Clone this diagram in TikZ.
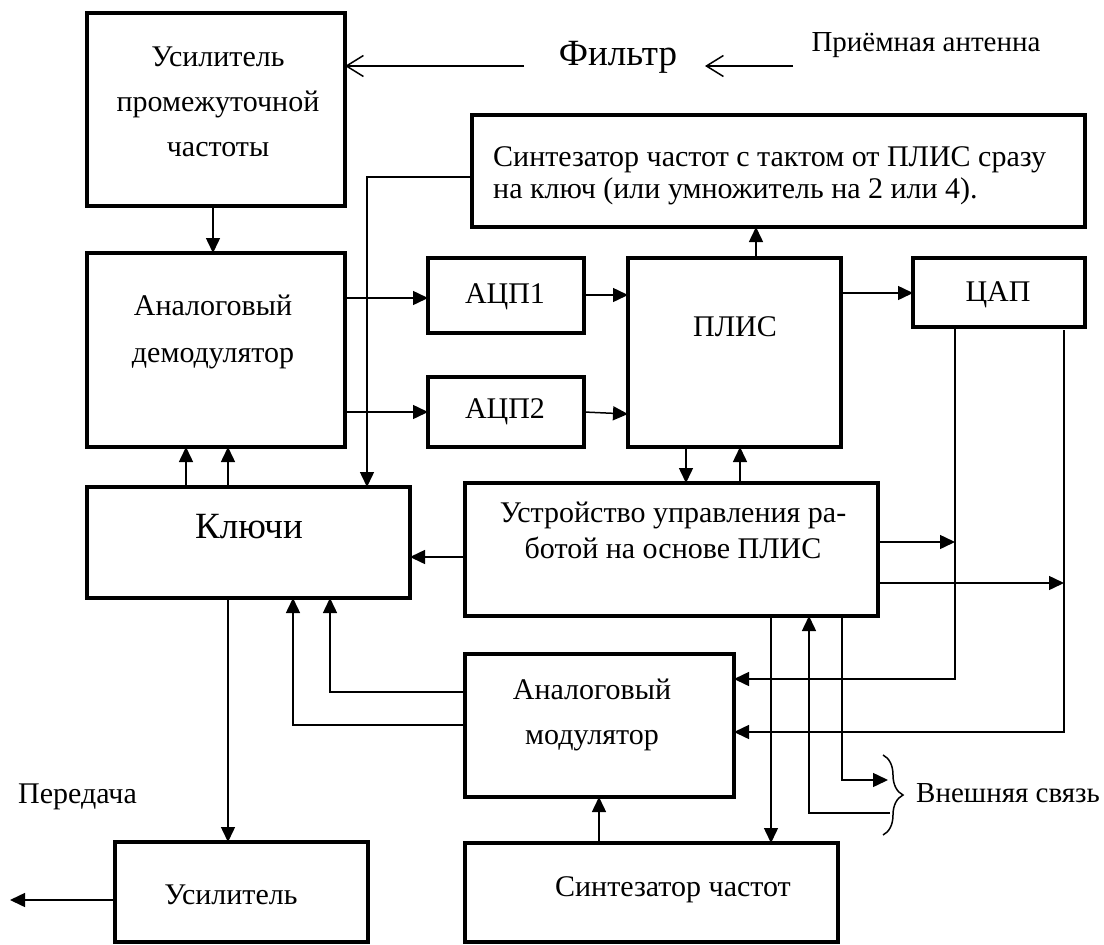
\documentclass[tikz,border=0pt]{standalone}
\usepackage{fontspec}
\setmainfont{Liberation Serif}
\usetikzlibrary{arrows.meta,decorations.pathreplacing}
\tikzset{
  bx/.style={draw, line width=3.5pt, inner sep=0pt, outer sep=0pt},
  txt/.style={inner sep=0pt, font=\fontsize{30}{36}\selectfont},
  big/.style={inner sep=0pt, font=\fontsize{37}{42}\selectfont},
  arr/.style={line width=1.5pt, -{Triangle[length=15pt,width=14pt]}},
  ln/.style={line width=1.5pt},
  oarr/.style={line width=1.5pt, -{Straight Barb[length=17pt,width=21pt]}}
}
\newcommand\mybox[5]{\node[bx, minimum width={#4-#2}, minimum height={#5-#3}] (#1) at ({(#2+#4)/2},{(#3+#5)/2}) {};}
\begin{document}
\begin{tikzpicture}[x=1pt,y=-1pt]
\useasboundingbox (0,0) rectangle (1104,945);
% boxes
\mybox{upch}{87}{13}{345}{206}
\mybox{demod}{87}{253}{345}{447}
\mybox{keys}{87}{487}{410}{598}
\mybox{amp}{115}{842}{368}{942}
\mybox{adc1}{428}{258}{584}{333}
\mybox{adc2}{428}{377}{584}{447}
\mybox{fpga}{628}{258}{841}{447}
\mybox{dac}{913}{258}{1085}{327}
\mybox{synth1}{472}{115}{1085}{227}
\mybox{ctrl}{465}{483}{878}{616}
\mybox{mod}{465}{654}{734}{797}
\mybox{synth2}{465}{843}{838}{942}
% texts
\node[txt, align=center, font=\fontsize{30}{45}\selectfont] (tupch) at (218,102) {Усилитель\\промежуточной\\частоты};
\node[txt, align=center, font=\fontsize{30}{47}\selectfont] (tdemod) at (213,332) {Аналоговый\\демодулятор};
\node[big] (tkeys) at (249,527) {Ключи};
\node[txt] (tamp) at (231,895) {Усилитель};
\node[txt] (tadc1) at (505,297) {АЦП1};
\node[txt] (tadc2) at (505,412) {АЦП2};
\node[txt] (tfpga) at (735,327) {ПЛИС};
\node[txt] (tdac) at (998,295) {ЦАП};
\node[txt, align=left, anchor=west, font=\fontsize{30}{32}\selectfont] (tsynth1) at (493,176) {Синтезатор частот с тактом от ПЛИС сразу\\на ключ (или умножитель на 2 или 4).};
\node[txt, align=center] (tctrl) at (673,530) {Устройство управления ра-\\ботой на основе ПЛИС};
\node[txt, align=center, font=\fontsize{30}{45}\selectfont] (tmod) at (592,715) {Аналоговый\\модулятор};
\node[txt] (tsynth2) at (673,890) {Синтезатор частот};
\node[big] (tfilt) at (618,57) {Фильтр};
\node[txt, font=\fontsize{29}{34}\selectfont] (tant) at (926,45) {Приёмная антенна};
\node[txt, anchor=west] (tperedacha) at (18,797) {Передача};
\node[txt, anchor=west, font=\fontsize{29}{34}\selectfont] (text) at (916,793) {Внешняя связь};
% free ends
\coordinate (fa) at (524,66);
\coordinate (aa) at (793,66);
\coordinate (ab) at (705,66);
\coordinate (out) at (10,900);
\coordinate (d1) at (955,679);
\coordinate (d2top) at (1064,330);
\coordinate (d2) at (1064,732);
\coordinate (e1) at (888,780);
\coordinate (e2) at (890,813);
% connectors
\draw[oarr] (fa) -- (upch.east |- fa);
\draw[oarr] (aa) -- (ab);
\draw[arr] (213,0 |- upch.south) -- (213,0 |- demod.north);
\draw[arr] (synth1.west |- 0,177) -| (367,0 |- keys.north);
\draw[arr] (demod.east |- 0,298) -- (adc1.west |- 0,298);
\draw[arr] (demod.east |- 0,412) -- (adc2.west |- 0,412);
\draw[arr] (adc1.east |- 0,295) -- (fpga.west |- 0,295);
\draw[arr] (adc2.east |- 0,412) -- (fpga.west |- 0,414);
\draw[arr] (756,0 |- fpga.north) -- (756,0 |- synth1.south);
\draw[arr] (fpga.east |- 0,293) -- (dac.west |- 0,293);
\draw[arr] (686,0 |- fpga.south) -- (686,0 |- ctrl.north);
\draw[arr] (740,0 |- ctrl.north) -- (740,0 |- fpga.south);
\draw[arr] (186,0 |- keys.north) -- (186,0 |- demod.south);
\draw[arr] (228,0 |- keys.north) -- (228,0 |- demod.south);
\draw[arr] (ctrl.west |- 0,557) -- (keys.east |- 0,557);
\draw[arr] (228,0 |- keys.south) -- (228,0 |- amp.north);
\draw[arr] (amp.west |- out) -- (out);
\draw[arr] (mod.west |- 0,692) -| (330,0 |- keys.south);
\draw[arr] (mod.west |- 0,725) -| (293,0 |- keys.south);
\draw[arr] (955,0 |- dac.south) |- (mod.east |- d1);
\draw[arr] (d2top) |- (mod.east |- d2);
\draw[arr] (ctrl.east |- 0,542) -- (955,542);
\draw[arr] (ctrl.east |- 0,583) -- (1064,583);
\draw[arr] (771,0 |- ctrl.south) -- (771,0 |- synth2.north);
\draw[arr] (599,0 |- synth2.north) -- (599,0 |- mod.south);
\draw[arr] (842,0 |- ctrl.south) |- (e1);
\draw[arr] (e2) -| (809,0 |- ctrl.south);
\draw[ln, decorate, decoration={brace, amplitude=20pt}] (883,755) -- (883,835);
\end{tikzpicture}
\end{document}
